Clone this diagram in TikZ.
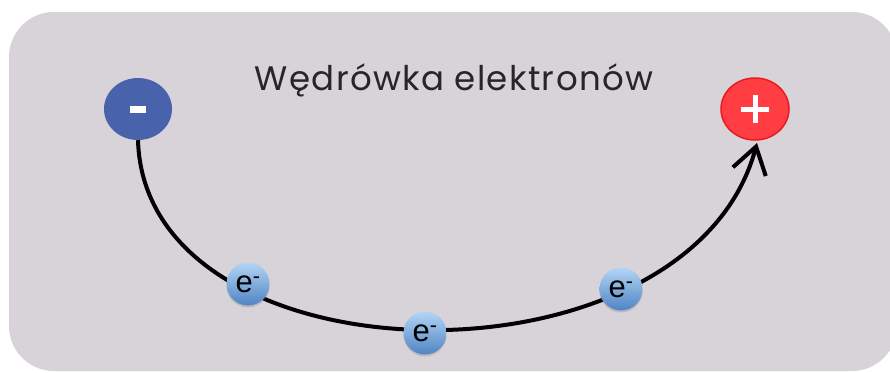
\documentclass[tikz,border=0pt]{standalone}
\usepackage{fontspec}
\setmainfont{Poppins}
\newfontfamily\efont{Liberation Sans}
\usetikzlibrary{arrows.meta,shadows,shapes.geometric}
\definecolor{panel}{HTML}{D8D3D9}
\definecolor{negblue}{HTML}{4862AC}
\definecolor{posred}{HTML}{FF3D42}
\definecolor{posedge}{HTML}{E81C20}
\definecolor{etop}{HTML}{B3D5F5}
\definecolor{ebot}{HTML}{4F84C4}
\begin{document}
\begin{tikzpicture}[x=1pt,y=-1pt,
  pole/.style={ellipse,minimum width=68pt,minimum height=62pt,inner sep=0pt},
  electron/.style={circle,minimum size=43pt,inner sep=0pt,top color=etop,bottom color=ebot,
    drop shadow={shadow xshift=0pt,shadow yshift=-2pt,opacity=0.3},
    font=\efont\fontsize{31}{31}\selectfont},
  wire/.style={line width=4pt,black}]
\useasboundingbox (0,0) rectangle (890,372);
\fill[panel,rounded corners=45pt] (9,12) rectangle (897,371);
\node[font=\addfontfeature{LetterSpace=4}\fontsize{34}{40}\selectfont,text=black!85] (title) at (454,80) {Wędrówka elektronów};
\node[pole,fill=negblue] (neg) at (138,109) {};
\fill[white] ([xshift=-8pt,yshift=-3.5pt]neg.center) rectangle ([xshift=8pt,yshift=3.5pt]neg.center);
\node[pole,fill=posred,draw=posedge,line width=1.5pt] (pos) at (755,109) {};
\fill[white] ([xshift=-14pt,yshift=-2.5pt]pos.center) rectangle ([xshift=14pt,yshift=2.5pt]pos.center);
\fill[white] ([xshift=-2.5pt,yshift=-14pt]pos.center) rectangle ([xshift=2.5pt,yshift=14pt]pos.center);
\coordinate (tip) at (757,143);
\draw[wire,-{Straight Barb[length=26pt,width=34pt,line width=4pt]}] (neg.south) .. controls (145,387) and (689,397) .. (tip);
\node[electron] (e1) at (248,284) {e\textsuperscript{-}};
\node[electron] (e2) at (425,333) {e\textsuperscript{-}};
\node[electron] (e3) at (621,289) {e\textsuperscript{-}};
\end{tikzpicture}
\end{document}
